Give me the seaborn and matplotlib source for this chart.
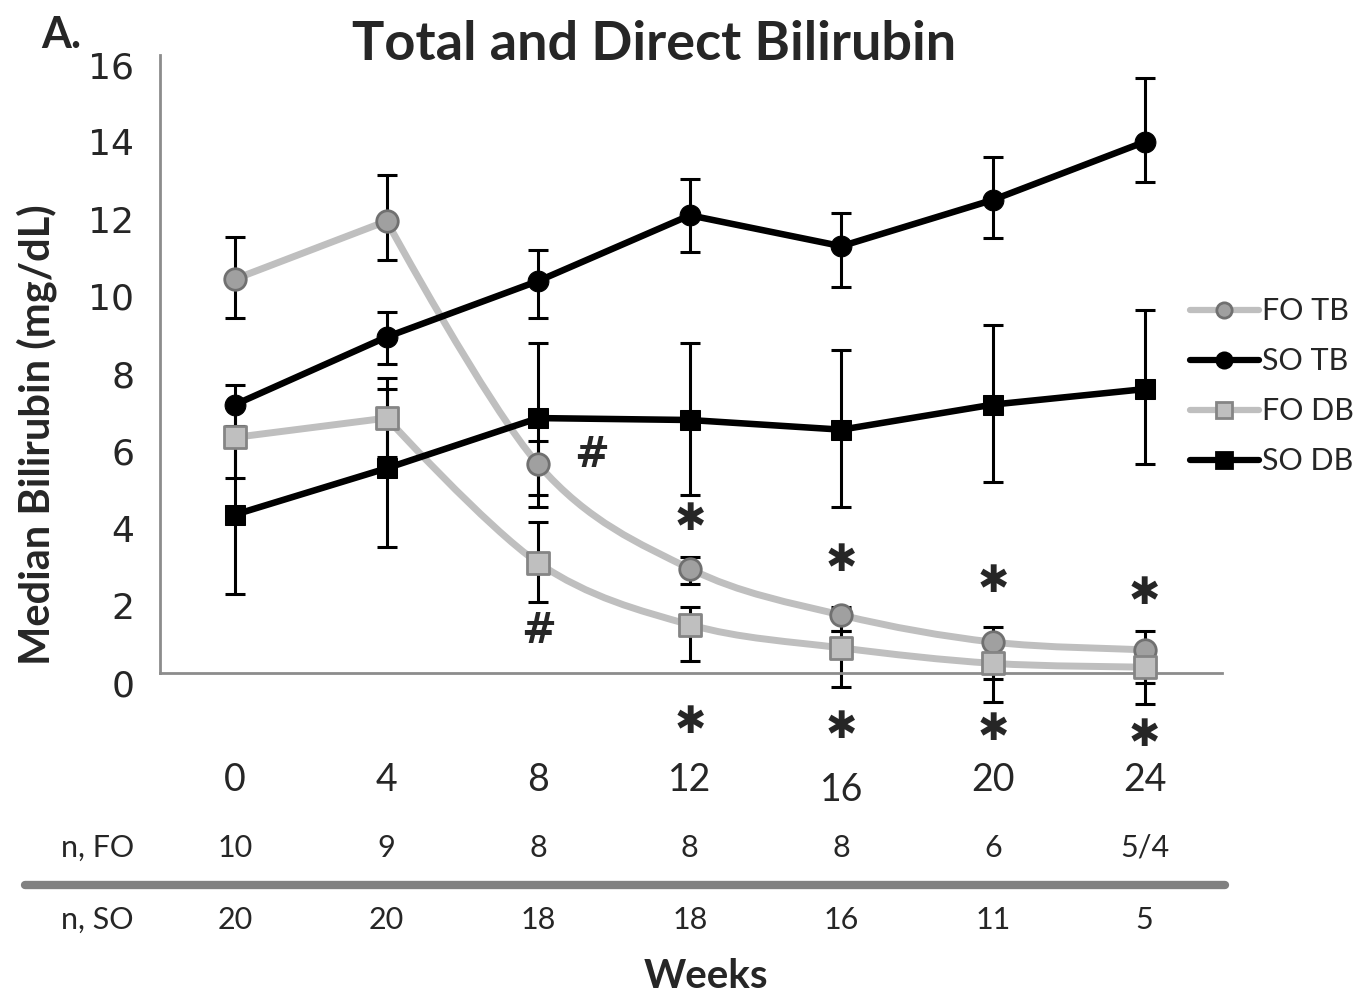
import numpy as np
import pandas as pd
import matplotlib
matplotlib.use('Agg')
import matplotlib.pyplot as plt
import matplotlib.transforms as mtransforms
from matplotlib.path import Path
from matplotlib.patches import PathPatch
from matplotlib.lines import Line2D
import seaborn as sns

# データ
weeks = [0, 4, 8, 12, 16, 20, 24]

fo_tb = [10.2, 11.7, 5.4, 2.7, 1.5, 0.8, 0.6]
fo_tb_hi = [11.3, 12.9, 6.0, 3.0, 1.7, 1.2, 1.1]
fo_tb_lo = [9.2, 10.7, 4.6, 2.3, 1.1, -0.15, -0.25]

so_tb = [6.95, 8.7, 10.15, 11.85, 11.05, 12.25, 13.75]
so_tb_hi = [7.45, 9.35, 10.95, 12.8, 11.9, 13.35, 15.4]
so_tb_lo = [6.4, 8.0, 9.2, 10.9, 10.0, 11.25, 12.7]

fo_db = [6.1, 6.6, 2.85, 1.25, 0.65, 0.25, 0.15]
fo_db_hi = [7.0, 7.65, 3.9, 1.7, 1.1, 0.5, 0.4]
fo_db_lo = [5.05, 5.6, 1.85, 0.3, -0.35, -0.75, -0.8]

so_db = [4.1, 5.3, 6.6, 6.55, 6.3, 6.95, 7.35]
so_db_hi = [6.1, 7.35, 8.55, 8.55, 8.35, 9.0, 9.4]
so_db_lo = [2.05, 3.25, 4.3, 4.6, 4.3, 4.95, 5.4]

n_fo = ['10', '9', '8', '8', '8', '6', '5/4']
n_so = ['20', '20', '18', '18', '16', '11', '5']

# 有意差マーク
star_weeks = [12, 16, 20, 24]
star_top = [3.95, 2.9, 2.35, 2.05]
star_bottom = [-1.3, -1.42, -1.48, -1.62]
hash_marks = [(9.4, 5.65), (8, 1.1)]

sns.set_theme(style='white')
plt.rcParams['font.family'] = ['Lato', 'DejaVu Sans']

fig = plt.figure(figsize=(13.71, 10), dpi=100)
ax = fig.add_axes([0.1167, 0.327, 0.7746, 0.618])

LIGHT = '#BFBFBF'


def smooth_path(xs, ys):
    # Excel風のスムージング線 (山・谷の点では接線をゼロにして角を残す)
    pts = np.column_stack([xs, ys]).astype(float)
    n = len(pts)
    tang = np.zeros_like(pts)
    for i in range(n):
        p0 = pts[max(i - 1, 0)]
        p2 = pts[min(i + 1, n - 1)]
        if 0 < i < n - 1 and (pts[i, 1] - p0[1]) * (p2[1] - pts[i, 1]) < 0:
            continue
        tang[i] = (p2 - p0) / 6
    verts = [pts[0]]
    codes = [Path.MOVETO]
    for i in range(n - 1):
        verts += [pts[i] + tang[i], pts[i + 1] - tang[i + 1], pts[i + 1]]
        codes += [Path.CURVE4] * 3
    return Path(verts, codes)


series = [
    # name, vals, lo, hi, marker, fill, edge, line color, smooth
    ('FO TB', fo_tb, fo_tb_lo, fo_tb_hi, 'o', '#A0A0A0', '#707070', LIGHT, True),
    ('SO TB', so_tb, so_tb_lo, so_tb_hi, 'o', 'black', 'black', 'black', False),
    ('FO DB', fo_db, fo_db_lo, fo_db_hi, 's', '#BFBFBF', '#858585', LIGHT, True),
    ('SO DB', so_db, so_db_lo, so_db_hi, 's', 'black', 'black', 'black', False),
]

handles = []
for name, vals, lo, hi, mk, fc, ec, lc, smooth in series:
    v = np.array(vals)
    err = [v - np.array(lo), np.array(hi) - v]
    eb = ax.errorbar(weeks, vals, yerr=err, fmt='none', ecolor='black',
                     elinewidth=2.2, capsize=7, capthick=2.2, zorder=2)
    for art in list(eb.lines[1]) + list(eb.lines[2]):
        art.set_clip_on(False)
    if smooth:
        ax.add_patch(PathPatch(smooth_path(weeks, vals), fill=False,
                               edgecolor=lc, lw=5, zorder=3, capstyle='round',
                               joinstyle='round'))
        sns.scatterplot(x=weeks, y=vals, marker=mk, s=240, color=fc,
                        edgecolor=ec, linewidth=2, zorder=4, ax=ax,
                        legend=False, clip_on=False)
    else:
        sns.lineplot(x=weeks, y=vals, color=lc, lw=4.7, marker=mk,
                     markersize=15, markerfacecolor=fc, markeredgecolor=ec,
                     zorder=5, ax=ax, legend=False)
    handles.append(Line2D([], [], color=lc, lw=4.5, marker=mk, markersize=11,
                          markerfacecolor=fc, markeredgecolor=ec,
                          markeredgewidth=2))

# 軸の設定
ax.set_xlim(-1.98, 26.04)
ax.set_ylim(0, 16)
ax.set_yticks(range(0, 17, 2))
ax.set_xticks(weeks)
ax.set_xticklabels([str(w) for w in weeks], fontsize=27)
ax.tick_params(axis='x', length=0, pad=64)
ax.tick_params(axis='y', direction='out', length=8.6, width=2,
               color='#8C8C8C', pad=10, labelsize=26)
down = mtransforms.ScaledTranslation(0, -7 / 72, fig.dpi_scale_trans)
for lbl in ax.get_yticklabels():
    lbl.set_family('DejaVu Sans')
    lbl.set_transform(lbl.get_transform() + down)
xl = ax.get_xticklabels()
xl[4].set_transform(xl[4].get_transform() + down)
sns.despine(ax=ax)
for sp in ['left', 'bottom']:
    ax.spines[sp].set_color('#8C8C8C')
    ax.spines[sp].set_linewidth(2)
ax.set_xlabel('')
ax.set_ylabel('Median Bilirubin (mg/dL)', fontsize=30, fontweight='bold')
ax.yaxis.set_label_coords(-0.097, 0.385)

# 有意差マーク
for w, yt, yb in zip(star_weeks, star_top, star_bottom):
    for yy in (yt, yb):
        ax.text(w, yy, '\u2731', ha='center', va='center', fontsize=27,
                family='DejaVu Sans', clip_on=False)
for hx, hy in hash_marks:
    ax.text(hx, hy, '#', ha='center', va='center', fontsize=30,
            fontweight='bold', family='DejaVu Sans', clip_on=False)

# タイトル
fig.text(0.477, 0.955, 'Total and Direct Bilirubin', ha='center',
         va='center', fontsize=39, fontweight='bold')
fig.text(0.03, 0.965, 'A.', ha='left', va='center', fontsize=31,
         fontweight='bold')

# 凡例
ax.legend(handles, [s[0] for s in series], loc='center left',
          bbox_to_anchor=(0.868, 0.6135), bbox_transform=fig.transFigure,
          frameon=False, fontsize=22, handlelength=2.25, handletextpad=0.1,
          labelspacing=0.72, borderpad=0, borderaxespad=0)

# n の表
tr = mtransforms.blended_transform_factory(ax.transData, fig.transFigure)
fig.text(0.071, 1 - 0.848, 'n, FO', ha='center', va='center', fontsize=22)
fig.text(0.071, 1 - 0.920, 'n, SO', ha='center', va='center', fontsize=22)
for w, a, b in zip(weeks, n_fo, n_so):
    ax.text(w, 1 - 0.848, a, transform=tr, ha='center', va='center',
            fontsize=22)
    ax.text(w, 1 - 0.920, b, transform=tr, ha='center', va='center',
            fontsize=22)
fig.add_artist(Line2D([25 / 1371, 1225 / 1371], [1 - 0.885, 1 - 0.885],
                      color='#808080', lw=6, solid_capstyle='round'))

fig.text(0.515, 0.024, 'Weeks', ha='center', va='center', fontsize=29,
         fontweight='bold')

fig.savefig('out.png', dpi=100, facecolor='white')
